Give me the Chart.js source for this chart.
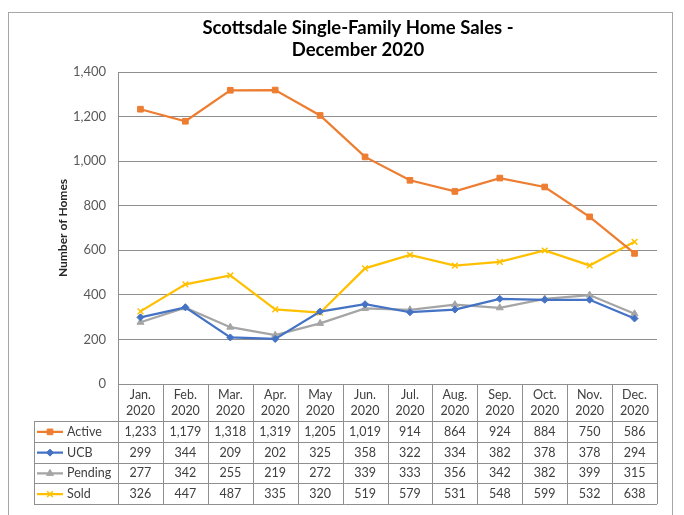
<!DOCTYPE html>
<html>
<head>
<meta charset="utf-8">
<script src="https://cdn.jsdelivr.net/npm/chart.js@4/dist/chart.umd.min.js"></script>
<style>
  html, body { margin: 0; padding: 0; background: #fff; }
  #wrap { position: relative; width: 684px; height: 515px; }
</style>
</head>
<body>
<div id="wrap"><canvas id="c" width="684" height="515"></canvas></div>
<script>
    // 차트 데이터
    const months = ['Jan.', 'Feb.', 'Mar.', 'Apr.', 'May', 'Jun.', 'Jul.', 'Aug.', 'Sep.', 'Oct.', 'Nov.', 'Dec.'];
    const year = '2020';
    const active = [1233, 1179, 1318, 1319, 1205, 1019, 914, 864, 924, 884, 750, 586];
    const ucb = [299, 344, 209, 202, 325, 358, 322, 334, 382, 378, 378, 294];
    const pending = [277, 342, 255, 219, 272, 339, 333, 356, 342, 382, 399, 315];
    const sold = [326, 447, 487, 335, 320, 519, 579, 531, 548, 599, 532, 638];
    const titleLines = ['Scottsdale Single-Family Home Sales -', 'December 2020'];
    const yTicks = [0, 200, 400, 600, 800, 1000, 1200, 1400];

    const FONT = 'Lato, "Open Sans", sans-serif';
    const GRID = '#8f8f8f';
    const TEXT = '#404040';

    function fmt(v) { return v.toLocaleString('en-US'); }

    function series(label, data, color, style, radius) {
        return {
            label, data,
            borderColor: color,
            backgroundColor: color,
            borderWidth: 2.25,
            pointStyle: style,
            pointRadius: radius,
            pointBorderWidth: style === 'crossRot' ? 1.5 : 1,
            pointHoverRadius: radius,
            tension: 0,
        };
    }

    const datasets = [
        series('Active', active, '#ED7D31', 'rect', 4),
        series('UCB', ucb, '#4472C4', 'rectRot', 3.5),
        series('Pending', pending, '#A5A5A5', 'triangle', 4),
        series('Sold', sold, '#FFC000', 'crossRot', 4),
    ];

    /** 제목, 외곽선, 데이터 테이블 그리기 */
    const tablePlugin = {
        id: 'dataTable',
        beforeDraw(chart) {
            const ctx = chart.ctx;
            ctx.save();
            ctx.fillStyle = '#fff';
            ctx.fillRect(0, 0, chart.width, chart.height);
            ctx.strokeStyle = '#a6a6a6';
            ctx.lineWidth = 1;
            ctx.strokeRect(8.5, 12.5, 664, 520);
            ctx.restore();
        },
        afterDraw(chart) {
            const ctx = chart.ctx;
            const x = chart.scales.x;
            const area = chart.chartArea;
            const colW = (area.right - area.left) / months.length;
            const top = area.bottom;
            const headH = 37;
            const rowH = 20.75;
            const legendLeft = 34;
            const rows = datasets.length;
            const bottom = top + headH + rowH * rows;

            ctx.save();
            // 제목
            ctx.fillStyle = '#000';
            ctx.font = 'bold 18.5px ' + FONT;
            ctx.textAlign = 'center';
            ctx.textBaseline = 'middle';
            ctx.fillText(titleLines[0], 358, 28);
            ctx.fillText(titleLines[1], 358, 50);

            // 테이블 선
            ctx.strokeStyle = GRID;
            ctx.lineWidth = 1;
            ctx.beginPath();
            for (let i = 0; i <= months.length; i++) {
                const px = Math.round(area.left + colW * i) + 0.5;
                ctx.moveTo(px, top);
                ctx.lineTo(px, bottom);
            }
            for (let r = 0; r <= rows; r++) {
                const py = Math.round(top + headH + rowH * r) + 0.5;
                ctx.moveTo(legendLeft, py);
                ctx.lineTo(area.right, py);
            }
            ctx.moveTo(legendLeft + 0.5, top + headH);
            ctx.lineTo(legendLeft + 0.5, bottom);
            ctx.stroke();

            // 헤더
            ctx.fillStyle = TEXT;
            ctx.font = '12.5px ' + FONT;
            months.forEach((m, i) => {
                const cx = x.getPixelForValue(i);
                ctx.fillText(m, cx, top + 11);
                ctx.fillText(year, cx, top + 27);
            });

            // 행
            datasets.forEach((ds, r) => {
                const cy = top + headH + rowH * r + rowH / 2 + 0.5;
                ds.data.forEach((v, i) => {
                    ctx.fillStyle = TEXT;
                    ctx.textAlign = 'center';
                    ctx.fillText(fmt(v), x.getPixelForValue(i), cy);
                });
                // 범례 샘플
                ctx.strokeStyle = ds.borderColor;
                ctx.lineWidth = 2.25;
                ctx.beginPath();
                ctx.moveTo(37, cy);
                ctx.lineTo(63, cy);
                ctx.stroke();
                if (Chart.helpers && Chart.helpers.drawPoint) {
                    ctx.fillStyle = ds.backgroundColor;
                    ctx.lineWidth = ds.pointBorderWidth;
                    Chart.helpers.drawPoint(ctx, {
                        pointStyle: ds.pointStyle,
                        radius: ds.pointRadius,
                        rotation: 0,
                        borderWidth: ds.pointBorderWidth,
                    }, 50, cy);
                }
                ctx.fillStyle = TEXT;
                ctx.textAlign = 'left';
                ctx.font = '12.5px ' + FONT;
                ctx.fillText(ds.label, 67, cy);
            });
            ctx.restore();
        }
    };

    new Chart(document.getElementById('c'), {
        type: 'line',
        data: { labels: months, datasets },
        options: {
            responsive: false,
            animation: false,
            devicePixelRatio: 1,
            layout: { padding: { left: 0, right: 27, top: 72, bottom: 131 } },
            plugins: {
                legend: { display: false },
                title: { display: false },
                tooltip: { enabled: false },
            },
            scales: {
                x: {
                    display: false,
                    offset: true,
                },
                y: {
                    min: 0,
                    max: 1400,
                    afterBuildTicks(scale) { scale.ticks = yTicks.map(v => ({ value: v })); },
                    afterFit(scale) { scale.width = 118; },
                    ticks: {
                        color: '#595959',
                        font: { family: FONT, size: 13 },
                        padding: 12,
                        callback: v => fmt(v),
                    },
                    grid: { color: GRID, drawTicks: false },
                    border: { color: GRID },
                    title: {
                        display: true,
                        text: 'Number of Homes',
                        color: '#262626',
                        font: { family: FONT, size: 12, weight: 'bold' },
                        padding: { top: 56, bottom: 0 },
                    },
                },
            },
        },
        plugins: [tablePlugin],
    });
</script>
</body>
</html>
